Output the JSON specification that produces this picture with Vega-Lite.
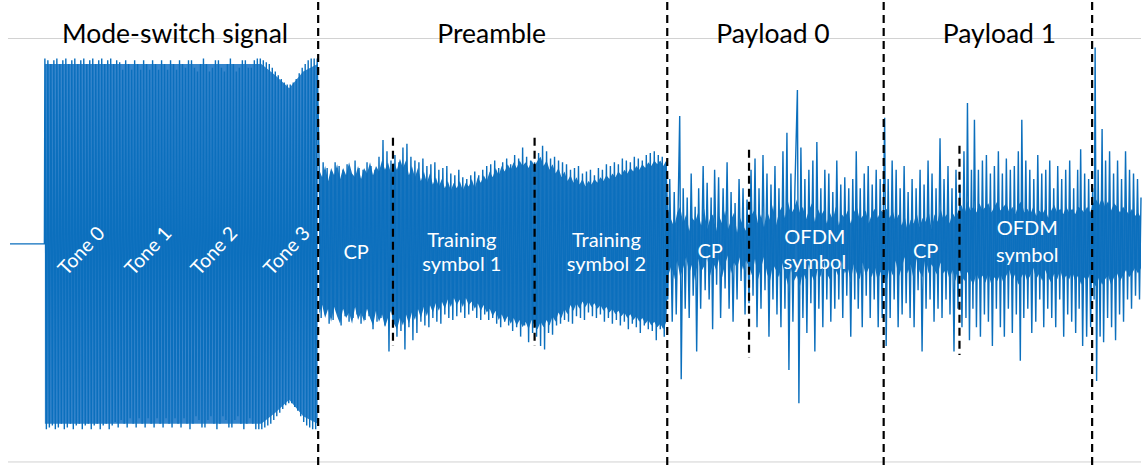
{
  "$schema": "https://vega.github.io/schema/vega-lite/v6.json",
  "width": 1144,
  "height": 469,
  "padding": 0,
  "autosize": {"type": "fit", "contains": "padding"},
  "background": "white",
  "config": {"view": {"stroke": null}},
  "datasets": {
    "grid": [{"v": 1.108}, {"v": -1.176}],
    "toneBand": [
      {"t": 45, "lo": -0.97, "hi": 0.97},
      {"t": 262, "lo": -0.97, "hi": 0.97},
      {"t": 276, "lo": -0.91, "hi": 0.91},
      {"t": 290, "lo": -0.84, "hi": 0.84},
      {"t": 304, "lo": -0.93, "hi": 0.93},
      {"t": 318.5, "lo": -0.97, "hi": 0.97}
    ],
    "coreBand": [
      {"t":320,"lo":-0.38,"hi":0.40},{"t":323,"lo":-0.33,"hi":0.36},{"t":326,"lo":-0.40,"hi":0.42},{"t":329,"lo":-0.35,"hi":0.34},{"t":332,"lo":-0.42,"hi":0.41},{"t":335,"lo":-0.34,"hi":0.37},{"t":338,"lo":-0.39,"hi":0.43},{"t":341,"lo":-0.43,"hi":0.35},{"t":344,"lo":-0.35,"hi":0.41},{"t":347,"lo":-0.40,"hi":0.37},{"t":350,"lo":-0.37,"hi":0.44},{"t":353,"lo":-0.43,"hi":0.38},{"t":356,"lo":-0.34,"hi":0.36},{"t":359,"lo":-0.41,"hi":0.42},{"t":362,"lo":-0.37,"hi":0.35},{"t":365,"lo":-0.42,"hi":0.41},{"t":368,"lo":-0.35,"hi":0.38},{"t":371,"lo":-0.40,"hi":0.44},{"t":374,"lo":-0.44,"hi":0.37},{"t":377,"lo":-0.36,"hi":0.42},{"t":380,"lo":-0.42,"hi":0.39},{"t":383,"lo":-0.38,"hi":0.45},{"t":386,"lo":-0.45,"hi":0.40},{"t":389,"lo":-0.40,"hi":0.44},{"t":392,"lo":-0.36,"hi":0.38},{"t":395,"lo":-0.43,"hi":0.44},{"t":398,"lo":-0.46,"hi":0.40},{"t":401,"lo":-0.40,"hi":0.46},{"t":404,"lo":-0.44,"hi":0.41},{"t":407,"lo":-0.38,"hi":0.45},{"t":410,"lo":-0.43,"hi":0.37},{"t":413,"lo":-0.37,"hi":0.42},{"t":416,"lo":-0.41,"hi":0.36},{"t":419,"lo":-0.35,"hi":0.41},{"t":422,"lo":-0.40,"hi":0.34},{"t":425,"lo":-0.34,"hi":0.39},{"t":428,"lo":-0.39,"hi":0.33},{"t":431,"lo":-0.33,"hi":0.38},{"t":434,"lo":-0.37,"hi":0.32},{"t":437,"lo":-0.32,"hi":0.36},{"t":440,"lo":-0.36,"hi":0.31},{"t":443,"lo":-0.31,"hi":0.35},{"t":446,"lo":-0.35,"hi":0.30},{"t":449,"lo":-0.30,"hi":0.34},{"t":452,"lo":-0.34,"hi":0.29},{"t":455,"lo":-0.29,"hi":0.33},{"t":458,"lo":-0.33,"hi":0.30},{"t":461,"lo":-0.30,"hi":0.34},{"t":464,"lo":-0.34,"hi":0.29},{"t":467,"lo":-0.29,"hi":0.33},{"t":470,"lo":-0.33,"hi":0.31},{"t":473,"lo":-0.31,"hi":0.35},{"t":476,"lo":-0.35,"hi":0.30},{"t":479,"lo":-0.32,"hi":0.36},{"t":482,"lo":-0.36,"hi":0.33},{"t":485,"lo":-0.33,"hi":0.37},{"t":488,"lo":-0.37,"hi":0.34},{"t":491,"lo":-0.35,"hi":0.39},{"t":494,"lo":-0.39,"hi":0.36},{"t":497,"lo":-0.36,"hi":0.41},{"t":500,"lo":-0.41,"hi":0.37},{"t":503,"lo":-0.38,"hi":0.42},{"t":506,"lo":-0.42,"hi":0.39},{"t":509,"lo":-0.39,"hi":0.43},{"t":512,"lo":-0.43,"hi":0.40},{"t":515,"lo":-0.40,"hi":0.44},{"t":518,"lo":-0.44,"hi":0.41},{"t":521,"lo":-0.41,"hi":0.45},{"t":524,"lo":-0.45,"hi":0.42},{"t":527,"lo":-0.42,"hi":0.44},{"t":530,"lo":-0.46,"hi":0.41},{"t":533,"lo":-0.41,"hi":0.45},{"t":536,"lo":-0.44,"hi":0.42},{"t":539,"lo":-0.46,"hi":0.45},{"t":542,"lo":-0.42,"hi":0.47},{"t":545,"lo":-0.45,"hi":0.42},{"t":548,"lo":-0.41,"hi":0.45},{"t":551,"lo":-0.44,"hi":0.40},{"t":554,"lo":-0.39,"hi":0.43},{"t":557,"lo":-0.42,"hi":0.38},{"t":560,"lo":-0.37,"hi":0.41},{"t":563,"lo":-0.40,"hi":0.36},{"t":566,"lo":-0.35,"hi":0.39},{"t":569,"lo":-0.38,"hi":0.34},{"t":572,"lo":-0.33,"hi":0.37},{"t":575,"lo":-0.36,"hi":0.33},{"t":578,"lo":-0.32,"hi":0.36},{"t":581,"lo":-0.35,"hi":0.32},{"t":584,"lo":-0.31,"hi":0.35},{"t":587,"lo":-0.34,"hi":0.31},{"t":590,"lo":-0.31,"hi":0.34},{"t":593,"lo":-0.34,"hi":0.32},{"t":596,"lo":-0.32,"hi":0.35},{"t":599,"lo":-0.35,"hi":0.33},{"t":602,"lo":-0.33,"hi":0.36},{"t":605,"lo":-0.36,"hi":0.34},{"t":608,"lo":-0.34,"hi":0.37},{"t":611,"lo":-0.37,"hi":0.35},{"t":614,"lo":-0.35,"hi":0.38},{"t":617,"lo":-0.38,"hi":0.36},{"t":620,"lo":-0.36,"hi":0.39},{"t":623,"lo":-0.39,"hi":0.37},{"t":626,"lo":-0.37,"hi":0.40},{"t":629,"lo":-0.40,"hi":0.38},{"t":632,"lo":-0.38,"hi":0.41},{"t":635,"lo":-0.41,"hi":0.39},{"t":638,"lo":-0.39,"hi":0.42},{"t":641,"lo":-0.42,"hi":0.40},{"t":644,"lo":-0.40,"hi":0.43},{"t":647,"lo":-0.43,"hi":0.41},{"t":650,"lo":-0.41,"hi":0.44},{"t":653,"lo":-0.44,"hi":0.42},{"t":656,"lo":-0.42,"hi":0.45},{"t":659,"lo":-0.45,"hi":0.43},{"t":662,"lo":-0.43,"hi":0.45},{"t":665,"lo":-0.46,"hi":0.42},{"t":668,"lo":-0.42,"hi":0.45},
      {"t":670,"lo":-0.17,"hi":0.18},{"t":673,"lo":-0.12,"hi":0.13},{"t":676,"lo":-0.19,"hi":0.09},{"t":679,"lo":-0.09,"hi":0.17},{"t":682,"lo":-0.18,"hi":0.20},{"t":685,"lo":-0.13,"hi":0.11},{"t":688,"lo":-0.07,"hi":0.16},{"t":691,"lo":-0.16,"hi":0.07},{"t":694,"lo":-0.11,"hi":0.14},{"t":697,"lo":-0.20,"hi":0.12},{"t":700,"lo":-0.08,"hi":0.17},{"t":703,"lo":-0.15,"hi":0.10},{"t":706,"lo":-0.12,"hi":0.19},{"t":709,"lo":-0.07,"hi":0.08},{"t":712,"lo":-0.17,"hi":0.14},{"t":715,"lo":-0.10,"hi":0.16},{"t":718,"lo":-0.14,"hi":0.07},{"t":721,"lo":-0.08,"hi":0.15},{"t":724,"lo":-0.18,"hi":0.11},{"t":727,"lo":-0.11,"hi":0.18},{"t":730,"lo":-0.06,"hi":0.08},{"t":733,"lo":-0.16,"hi":0.13},{"t":736,"lo":-0.10,"hi":0.17},{"t":739,"lo":-0.13,"hi":0.06},{"t":742,"lo":-0.07,"hi":0.14},{"t":745,"lo":-0.14,"hi":0.10},{"t":748,"lo":-0.09,"hi":0.07},{"t":751,"lo":-0.12,"hi":0.12},{"t":754,"lo":-0.17,"hi":0.16},{"t":757,"lo":-0.08,"hi":0.19},{"t":760,"lo":-0.19,"hi":0.11},{"t":763,"lo":-0.13,"hi":0.16},{"t":766,"lo":-0.07,"hi":0.09},{"t":769,"lo":-0.16,"hi":0.18},{"t":772,"lo":-0.20,"hi":0.13},{"t":775,"lo":-0.11,"hi":0.21},{"t":778,"lo":-0.14,"hi":0.10},{"t":781,"lo":-0.18,"hi":0.17},{"t":784,"lo":-0.10,"hi":0.20},{"t":787,"lo":-0.16,"hi":0.14},{"t":790,"lo":-0.22,"hi":0.23},{"t":793,"lo":-0.13,"hi":0.16},{"t":796,"lo":-0.20,"hi":0.19},{"t":799,"lo":-0.17,"hi":0.24},{"t":802,"lo":-0.23,"hi":0.17},{"t":805,"lo":-0.15,"hi":0.20},{"t":808,"lo":-0.19,"hi":0.13},{"t":811,"lo":-0.11,"hi":0.18},{"t":814,"lo":-0.17,"hi":0.22},{"t":817,"lo":-0.21,"hi":0.12},{"t":820,"lo":-0.13,"hi":0.19},{"t":823,"lo":-0.18,"hi":0.15},{"t":826,"lo":-0.08,"hi":0.18},{"t":829,"lo":-0.16,"hi":0.11},{"t":832,"lo":-0.19,"hi":0.17},{"t":835,"lo":-0.11,"hi":0.13},{"t":838,"lo":-0.14,"hi":0.20},{"t":841,"lo":-0.18,"hi":0.10},{"t":844,"lo":-0.09,"hi":0.16},{"t":847,"lo":-0.16,"hi":0.14},{"t":850,"lo":-0.13,"hi":0.18},{"t":853,"lo":-0.20,"hi":0.11},{"t":856,"lo":-0.11,"hi":0.17},{"t":859,"lo":-0.16,"hi":0.20},{"t":862,"lo":-0.19,"hi":0.13},{"t":865,"lo":-0.10,"hi":0.15},{"t":868,"lo":-0.17,"hi":0.18},{"t":871,"lo":-0.13,"hi":0.11},{"t":874,"lo":-0.18,"hi":0.16},{"t":877,"lo":-0.12,"hi":0.19},{"t":880,"lo":-0.20,"hi":0.14},{"t":883,"lo":-0.15,"hi":0.18},{"t":886,"lo":-0.18,"hi":0.17},{"t":889,"lo":-0.20,"hi":0.19},{"t":892,"lo":-0.12,"hi":0.14},{"t":895,"lo":-0.17,"hi":0.18},{"t":898,"lo":-0.09,"hi":0.12},{"t":901,"lo":-0.18,"hi":0.16},{"t":904,"lo":-0.13,"hi":0.10},{"t":907,"lo":-0.07,"hi":0.15},{"t":910,"lo":-0.16,"hi":0.07},{"t":913,"lo":-0.11,"hi":0.13},{"t":916,"lo":-0.19,"hi":0.11},{"t":919,"lo":-0.08,"hi":0.17},{"t":922,"lo":-0.15,"hi":0.09},{"t":925,"lo":-0.18,"hi":0.14},{"t":928,"lo":-0.07,"hi":0.12},{"t":931,"lo":-0.16,"hi":0.18},{"t":934,"lo":-0.11,"hi":0.08},{"t":937,"lo":-0.14,"hi":0.16},{"t":940,"lo":-0.17,"hi":0.12},{"t":943,"lo":-0.10,"hi":0.19},{"t":946,"lo":-0.16,"hi":0.13},{"t":949,"lo":-0.13,"hi":0.16},{"t":952,"lo":-0.19,"hi":0.11},{"t":955,"lo":-0.14,"hi":0.17},{"t":958,"lo":-0.20,"hi":0.14},{"t":961,"lo":-0.12,"hi":0.18},{"t":964,"lo":-0.17,"hi":0.21},{"t":967,"lo":-0.20,"hi":0.16},{"t":970,"lo":-0.15,"hi":0.23},{"t":973,"lo":-0.19,"hi":0.18},{"t":976,"lo":-0.22,"hi":0.20},{"t":979,"lo":-0.16,"hi":0.17},{"t":982,"lo":-0.20,"hi":0.22},{"t":985,"lo":-0.17,"hi":0.18},{"t":988,"lo":-0.21,"hi":0.20},{"t":991,"lo":-0.16,"hi":0.22},{"t":994,"lo":-0.22,"hi":0.17},{"t":997,"lo":-0.18,"hi":0.20},{"t":1000,"lo":-0.20,"hi":0.23},{"t":1003,"lo":-0.16,"hi":0.18},{"t":1006,"lo":-0.21,"hi":0.20},{"t":1009,"lo":-0.17,"hi":0.22},{"t":1012,"lo":-0.14,"hi":0.17},{"t":1015,"lo":-0.20,"hi":0.20},{"t":1018,"lo":-0.16,"hi":0.16},{"t":1021,"lo":-0.22,"hi":0.21},{"t":1024,"lo":-0.18,"hi":0.23},{"t":1027,"lo":-0.15,"hi":0.17},{"t":1030,"lo":-0.20,"hi":0.19},{"t":1033,"lo":-0.17,"hi":0.16},{"t":1036,"lo":-0.13,"hi":0.20},{"t":1039,"lo":-0.19,"hi":0.15},{"t":1042,"lo":-0.16,"hi":0.18},{"t":1045,"lo":-0.20,"hi":0.16},{"t":1048,"lo":-0.14,"hi":0.19},{"t":1051,"lo":-0.18,"hi":0.14},{"t":1054,"lo":-0.21,"hi":0.18},{"t":1057,"lo":-0.16,"hi":0.21},{"t":1060,"lo":-0.19,"hi":0.17},{"t":1063,"lo":-0.14,"hi":0.19},{"t":1066,"lo":-0.20,"hi":0.16},{"t":1069,"lo":-0.17,"hi":0.20},{"t":1072,"lo":-0.19,"hi":0.17},{"t":1075,"lo":-0.15,"hi":0.19},{"t":1078,"lo":-0.20,"hi":0.16},{"t":1081,"lo":-0.17,"hi":0.20},{"t":1084,"lo":-0.22,"hi":0.19},{"t":1087,"lo":-0.18,"hi":0.17},{"t":1090,"lo":-0.20,"hi":0.20},{"t":1093,"lo":-0.16,"hi":0.17},{"t":1096,"lo":-0.21,"hi":0.22},{"t":1099,"lo":-0.23,"hi":0.24},{"t":1102,"lo":-0.18,"hi":0.21},{"t":1105,"lo":-0.22,"hi":0.25},{"t":1108,"lo":-0.19,"hi":0.20},{"t":1111,"lo":-0.17,"hi":0.23},{"t":1114,"lo":-0.22,"hi":0.18},{"t":1117,"lo":-0.18,"hi":0.22},{"t":1120,"lo":-0.16,"hi":0.20},{"t":1123,"lo":-0.20,"hi":0.17},{"t":1126,"lo":-0.17,"hi":0.20},{"t":1129,"lo":-0.14,"hi":0.18},{"t":1132,"lo":-0.18,"hi":0.16},{"t":1135,"lo":-0.16,"hi":0.19},{"t":1138,"lo":-0.13,"hi":0.15},{"t":1141,"lo":-0.16,"hi":0.17},{"t":1144,"lo":-0.13,"hi":0.14}
    ],
    "signal": [
      {"t":10,"v":0},{"t":44.5,"v":0},
      {"t":45,"v":1},{"t":46.5,"v":-1},{"t":48,"v":0.99},{"t":49.5,"v":-0.99},{"t":51,"v":0.97},{"t":52.5,"v":-0.98},{"t":54,"v":0.99},{"t":55.5,"v":-1},{"t":57,"v":1},{"t":58.5,"v":-0.99},{"t":60,"v":0.97},{"t":61.5,"v":-0.97},{"t":63,"v":0.99},{"t":64.5,"v":-1},{"t":66,"v":1},{"t":67.5,"v":-0.99},{"t":69,"v":0.97},{"t":70.5,"v":-0.97},{"t":72,"v":0.99},{"t":73.5,"v":-1},{"t":75,"v":1},{"t":76.5,"v":-0.98},{"t":78,"v":0.97},{"t":79.5,"v":-0.97},{"t":81,"v":0.99},{"t":82.5,"v":-1},{"t":84,"v":1},{"t":85.5,"v":-0.98},{"t":87,"v":0.97},{"t":88.5,"v":-0.97},{"t":90,"v":0.99},{"t":91.5,"v":-1},{"t":93,"v":1},{"t":94.5,"v":-0.98},{"t":96,"v":0.97},{"t":97.5,"v":-0.97},{"t":99,"v":0.99},{"t":100.5,"v":-1},{"t":102,"v":1},{"t":103.5,"v":-0.98},{"t":105,"v":0.97},{"t":106.5,"v":-0.97},{"t":108,"v":0.99},{"t":109.5,"v":-1},{"t":111,"v":1},{"t":112.5,"v":-0.98},{"t":114,"v":0.97},
      {"t":115.5,"v":-0.96},{"t":117,"v":0.99},{"t":118.5,"v":-0.99},{"t":120,"v":0.98},{"t":121.5,"v":-0.95},{"t":123,"v":0.94},{"t":124.5,"v":-0.97},{"t":126,"v":0.99},{"t":127.5,"v":-0.99},{"t":129,"v":0.97},{"t":130.5,"v":-0.94},{"t":132,"v":0.94},{"t":133.5,"v":-0.97},{"t":135,"v":0.99},{"t":136.5,"v":-0.99},{"t":138,"v":0.97},{"t":139.5,"v":-0.94},{"t":141,"v":0.94},{"t":142.5,"v":-0.97},{"t":144,"v":0.99},{"t":145.5,"v":-0.99},{"t":147,"v":0.97},{"t":148.5,"v":-0.94},{"t":150,"v":0.94},{"t":151.5,"v":-0.97},{"t":153,"v":0.99},{"t":154.5,"v":-0.99},{"t":156,"v":0.97},{"t":157.5,"v":-0.94},{"t":159,"v":0.94},{"t":160.5,"v":-0.97},{"t":162,"v":0.99},{"t":163.5,"v":-0.99},{"t":165,"v":0.97},{"t":166.5,"v":-0.94},{"t":168,"v":0.94},{"t":169.5,"v":-0.97},{"t":171,"v":0.99},{"t":172.5,"v":-0.99},{"t":174,"v":0.97},{"t":175.5,"v":-0.94},{"t":177,"v":0.94},{"t":178.5,"v":-0.97},{"t":180,"v":0.99},{"t":181.5,"v":-0.99},{"t":183,"v":0.97},{"t":184.5,"v":-0.94},
      {"t":186,"v":0.95},{"t":187.5,"v":-0.97},{"t":189,"v":0.99},{"t":190.5,"v":-1},{"t":192,"v":0.99},{"t":193.5,"v":-0.97},{"t":195,"v":0.95},{"t":196.5,"v":-0.93},{"t":198,"v":0.93},{"t":199.5,"v":-0.95},{"t":201,"v":0.97},{"t":202.5,"v":-0.99},{"t":204,"v":1},{"t":205.5,"v":-0.99},{"t":207,"v":0.97},{"t":208.5,"v":-0.95},{"t":210,"v":0.93},{"t":211.5,"v":-0.93},{"t":213,"v":0.95},{"t":214.5,"v":-0.97},{"t":216,"v":0.99},{"t":217.5,"v":-1},{"t":219,"v":0.99},{"t":220.5,"v":-0.97},{"t":222,"v":0.95},{"t":223.5,"v":-0.93},{"t":225,"v":0.93},{"t":226.5,"v":-0.95},{"t":228,"v":0.97},{"t":229.5,"v":-0.99},{"t":231,"v":1},{"t":232.5,"v":-0.99},{"t":234,"v":0.97},{"t":235.5,"v":-0.95},{"t":237,"v":0.93},{"t":238.5,"v":-0.93},{"t":240,"v":0.95},{"t":241.5,"v":-0.97},{"t":243,"v":0.99},{"t":244.5,"v":-1},{"t":246,"v":0.99},{"t":247.5,"v":-0.97},{"t":249,"v":0.95},{"t":250.5,"v":-0.94},{"t":252,"v":0.95},{"t":253.5,"v":-0.97},
      {"t":255,"v":0.99},{"t":256.5,"v":-1},{"t":258,"v":1},{"t":259.5,"v":-1},{"t":261,"v":1},{"t":262.5,"v":-1},{"t":264,"v":0.99},{"t":265.5,"v":-0.99},{"t":267,"v":0.98},{"t":268.5,"v":-0.98},{"t":270,"v":0.97},{"t":271.5,"v":-0.97},{"t":273,"v":0.95},{"t":274.5,"v":-0.95},{"t":276,"v":0.93},{"t":277.5,"v":-0.93},{"t":279,"v":0.91},{"t":280.5,"v":-0.91},{"t":282,"v":0.89},{"t":283.5,"v":-0.89},{"t":285,"v":0.87},{"t":286.5,"v":-0.87},{"t":288,"v":0.86},{"t":289.5,"v":-0.86},{"t":291,"v":0.86},{"t":292.5,"v":-0.86},{"t":294,"v":0.87},{"t":295.5,"v":-0.88},{"t":297,"v":0.89},{"t":298.5,"v":-0.9},{"t":300,"v":0.92},{"t":301.5,"v":-0.93},{"t":303,"v":0.95},{"t":304.5,"v":-0.96},{"t":306,"v":0.97},{"t":307.5,"v":-0.98},{"t":309,"v":0.99},{"t":310.5,"v":-0.99},{"t":312,"v":1},{"t":313.5,"v":-1},{"t":315,"v":1},{"t":316.5,"v":-1},{"t":318,"v":1},
      {"t":320,"v":0.42},{"t":322,"v":-0.40},{"t":324,"v":0.44},{"t":326,"v":-0.38},{"t":328,"v":0.41},{"t":330,"v":-0.43},{"t":332,"v":0.39},{"t":334,"v":-0.41},{"t":336,"v":0.44},{"t":338,"v":-0.37},{"t":340,"v":0.42},{"t":342,"v":-0.44},{"t":344,"v":0.40},{"t":346,"v":-0.39},{"t":348,"v":0.43},{"t":350,"v":-0.42},{"t":352,"v":0.38},{"t":354,"v":-0.40},{"t":356,"v":0.45},{"t":358,"v":-0.38},{"t":360,"v":0.41},{"t":362,"v":-0.43},{"t":364,"v":0.40},{"t":366,"v":-0.41},{"t":368,"v":0.44},{"t":370,"v":-0.39},{"t":372,"v":0.42},{"t":374,"v":-0.46},{"t":376,"v":0.40},{"t":378,"v":-0.42},{"t":380,"v":0.47},{"t":382,"v":-0.40},{"t":384,"v":0.56},{"t":386,"v":-0.44},{"t":388,"v":0.50},{"t":390,"v":-0.58},{"t":392,"v":0.45},
      {"t":394,"v":-0.42},{"t":396,"v":0.48},{"t":398,"v":-0.50},{"t":400,"v":0.44},{"t":402,"v":-0.47},{"t":404,"v":0.52},{"t":406,"v":-0.57},{"t":408,"v":0.54},{"t":410,"v":-0.45},{"t":412,"v":0.47},{"t":414,"v":-0.52},{"t":416,"v":0.45},{"t":418,"v":-0.48},{"t":420,"v":0.44},{"t":422,"v":-0.42},{"t":424,"v":0.46},{"t":426,"v":-0.44},{"t":428,"v":0.42},{"t":430,"v":-0.45},{"t":432,"v":0.43},{"t":434,"v":-0.40},{"t":436,"v":0.44},{"t":438,"v":-0.42},{"t":440,"v":0.40},{"t":442,"v":-0.43},{"t":444,"v":0.41},{"t":446,"v":-0.38},{"t":448,"v":0.42},{"t":450,"v":-0.40},{"t":452,"v":0.38},{"t":454,"v":-0.41},{"t":456,"v":0.37},{"t":458,"v":-0.39},{"t":460,"v":0.40},{"t":462,"v":-0.37},{"t":464,"v":0.36},{"t":466,"v":-0.40},{"t":468,"v":0.35},{"t":470,"v":-0.38},{"t":472,"v":0.37},{"t":474,"v":-0.36},{"t":476,"v":0.39},{"t":478,"v":-0.40},{"t":480,"v":0.37},{"t":482,"v":-0.41},{"t":484,"v":0.40},{"t":486,"v":-0.38},{"t":488,"v":0.42},{"t":490,"v":-0.41},{"t":492,"v":0.43},{"t":494,"v":-0.40},{"t":496,"v":0.45},{"t":498,"v":-0.43},{"t":500,"v":0.41},{"t":502,"v":-0.45},{"t":504,"v":0.44},{"t":506,"v":-0.42},{"t":508,"v":0.46},{"t":510,"v":-0.44},{"t":512,"v":0.43},{"t":514,"v":-0.47},{"t":516,"v":0.48},{"t":518,"v":-0.45},{"t":520,"v":0.46},{"t":522,"v":-0.50},{"t":524,"v":0.52},{"t":526,"v":-0.44},{"t":528,"v":0.47},{"t":530,"v":-0.53},{"t":532,"v":0.45},{"t":534,"v":-0.48},{"t":536,"v":0.44},
      {"t":538,"v":-0.50},{"t":540,"v":0.49},{"t":542,"v":-0.55},{"t":544,"v":0.53},{"t":546,"v":-0.57},{"t":548,"v":0.50},{"t":550,"v":-0.48},{"t":552,"v":0.46},{"t":554,"v":-0.49},{"t":556,"v":0.47},{"t":558,"v":-0.44},{"t":560,"v":0.45},{"t":562,"v":-0.43},{"t":564,"v":0.44},{"t":566,"v":-0.41},{"t":568,"v":0.43},{"t":570,"v":-0.42},{"t":572,"v":0.40},{"t":574,"v":-0.43},{"t":576,"v":0.41},{"t":578,"v":-0.39},{"t":580,"v":0.42},{"t":582,"v":-0.40},{"t":584,"v":0.38},{"t":586,"v":-0.41},{"t":588,"v":0.39},{"t":590,"v":-0.37},{"t":592,"v":0.40},{"t":594,"v":-0.39},{"t":596,"v":0.37},{"t":598,"v":-0.40},{"t":600,"v":0.41},{"t":602,"v":-0.38},{"t":604,"v":0.40},{"t":606,"v":-0.42},{"t":608,"v":0.43},{"t":610,"v":-0.40},{"t":612,"v":0.42},{"t":614,"v":-0.43},{"t":616,"v":0.44},{"t":618,"v":-0.41},{"t":620,"v":0.43},{"t":622,"v":-0.44},{"t":624,"v":0.46},{"t":626,"v":-0.42},{"t":628,"v":0.45},{"t":630,"v":-0.46},{"t":632,"v":0.44},{"t":634,"v":-0.43},{"t":636,"v":0.47},{"t":638,"v":-0.45},{"t":640,"v":0.46},{"t":642,"v":-0.48},{"t":644,"v":0.45},{"t":646,"v":-0.44},{"t":648,"v":0.48},{"t":650,"v":-0.46},{"t":652,"v":0.49},{"t":654,"v":-0.47},{"t":656,"v":0.50},{"t":658,"v":-0.52},{"t":660,"v":0.48},{"t":662,"v":-0.46},{"t":664,"v":0.47},{"t":666,"v":-0.50},{"t":668,"v":0.44},
      {"t":669.5,"v":-0.30},{"t":671.5,"v":0.35},{"t":674,"v":-0.42},{"t":676,"v":0.28},{"t":678,"v":-0.38},{"t":680,"v":0.22},{"t":681.5,"v":0.69},{"t":683,"v":-0.73},{"t":685,"v":0.30},{"t":687,"v":-0.35},{"t":689,"v":0.25},{"t":691,"v":-0.40},{"t":693,"v":0.38},{"t":695,"v":-0.28},{"t":697,"v":0.20},{"t":698.5,"v":-0.58},{"t":700.5,"v":0.30},{"t":702.5,"v":-0.35},{"t":705,"v":0.42},{"t":707,"v":-0.25},{"t":709,"v":0.33},{"t":711,"v":-0.30},{"t":713,"v":0.25},{"t":714.5,"v":-0.46},{"t":716.5,"v":0.40},{"t":718.5,"v":-0.22},{"t":720.5,"v":0.36},{"t":722.5,"v":-0.40},{"t":725,"v":0.30},{"t":727,"v":-0.24},{"t":729,"v":0.44},{"t":731,"v":-0.35},{"t":733,"v":0.28},{"t":735,"v":-0.42},{"t":737,"v":0.22},{"t":739,"v":-0.30},{"t":741,"v":0.35},{"t":743,"v":-0.20},{"t":745,"v":0.30},{"t":747,"v":-0.38},{"t":749,"v":0.24},{"t":751,"v":-0.32},{"t":753,"v":0.40},{"t":755,"v":-0.28},{"t":757,"v":0.46},{"t":759,"v":-0.45},{"t":761,"v":0.30},{"t":763,"v":-0.35},{"t":765,"v":0.48},{"t":767,"v":-0.25},{"t":769,"v":0.38},{"t":771,"v":-0.50},{"t":773,"v":0.32},{"t":775,"v":-0.30},{"t":777,"v":0.42},{"t":779,"v":-0.38},{"t":781,"v":0.30},{"t":783,"v":-0.45},{"t":785,"v":0.50},{"t":787,"v":-0.35},{"t":789,"v":0.60},{"t":791,"v":-0.68},{"t":793,"v":0.38},{"t":795,"v":-0.42},{"t":797,"v":0.30},{"t":799.5,"v":0.83},{"t":801,"v":-0.86},{"t":803,"v":0.52},{"t":805,"v":-0.40},{"t":807,"v":0.35},{"t":809,"v":-0.48},{"t":811,"v":0.40},{"t":813,"v":-0.32},{"t":815,"v":0.45},{"t":817,"v":-0.58},{"t":819,"v":0.55},{"t":821,"v":-0.35},{"t":823,"v":0.30},{"t":825,"v":-0.45},{"t":827,"v":0.40},{"t":829,"v":-0.30},{"t":831,"v":0.38},{"t":833,"v":-0.42},{"t":835,"v":0.28},{"t":837,"v":-0.35},{"t":839,"v":0.45},{"t":841,"v":-0.30},{"t":843,"v":0.32},{"t":845,"v":-0.40},{"t":847,"v":0.36},{"t":849,"v":-0.28},{"t":851,"v":0.30},{"t":853,"v":-0.50},{"t":855,"v":0.35},{"t":857,"v":-0.30},{"t":858.5,"v":0.50},{"t":860.5,"v":-0.35},{"t":862.5,"v":0.30},{"t":864.5,"v":-0.45},{"t":866.5,"v":0.38},{"t":868.5,"v":-0.28},{"t":870.5,"v":0.42},{"t":872.5,"v":-0.40},{"t":874.5,"v":0.32},{"t":876.5,"v":-0.30},{"t":878.5,"v":0.40},{"t":880.5,"v":-0.45},{"t":882.5,"v":0.35},{"t":884.5,"v":-0.40},{"t":886,"v":0.30},
      {"t":887,"v":0.68},{"t":888.5,"v":-0.55},{"t":890.5,"v":0.35},{"t":892.5,"v":-0.40},{"t":894.5,"v":0.45},{"t":896.5,"v":-0.30},{"t":898.5,"v":0.40},{"t":900.5,"v":-0.45},{"t":902.5,"v":0.30},{"t":904.5,"v":-0.38},{"t":906.5,"v":0.42},{"t":908.5,"v":-0.32},{"t":910.5,"v":0.28},{"t":912.5,"v":-0.40},{"t":914.5,"v":0.35},{"t":916.5,"v":-0.45},{"t":918.5,"v":0.30},{"t":920.5,"v":-0.25},{"t":922.5,"v":0.40},{"t":924.5,"v":-0.58},{"t":926.5,"v":0.32},{"t":928.5,"v":-0.35},{"t":930.5,"v":0.45},{"t":932.5,"v":-0.30},{"t":934.5,"v":0.38},{"t":936.5,"v":-0.42},{"t":938.5,"v":0.30},{"t":940.5,"v":-0.35},{"t":942.5,"v":0.57},{"t":944.5,"v":-0.40},{"t":946.5,"v":0.35},{"t":948.5,"v":-0.30},{"t":950.5,"v":0.42},{"t":952.5,"v":-0.38},{"t":954.5,"v":0.30},{"t":956.5,"v":-0.58},{"t":958.5,"v":0.40},{"t":960.5,"v":-0.35},{"t":962.5,"v":0.32},{"t":964.5,"v":-0.45},{"t":966.5,"v":0.50},{"t":968.5,"v":-0.40},{"t":970,"v":0.76},{"t":972,"v":-0.52},{"t":974,"v":0.40},{"t":975.5,"v":-0.35},{"t":977,"v":0.67},{"t":979,"v":-0.45},{"t":981,"v":0.40},{"t":983,"v":-0.50},{"t":985,"v":0.45},{"t":987,"v":-0.38},{"t":989,"v":0.48},{"t":991,"v":-0.42},{"t":993,"v":0.38},{"t":995,"v":-0.55},{"t":997,"v":0.42},{"t":999,"v":-0.35},{"t":1001,"v":0.50},{"t":1003,"v":-0.45},{"t":1005,"v":0.38},{"t":1007,"v":-0.50},{"t":1009,"v":0.46},{"t":1011,"v":-0.35},{"t":1013,"v":0.40},{"t":1015,"v":-0.48},{"t":1017,"v":0.42},{"t":1019,"v":-0.38},{"t":1021,"v":0.50},{"t":1023,"v":-0.63},{"t":1024.5,"v":0.67},{"t":1026.5,"v":-0.40},{"t":1028.5,"v":0.45},{"t":1030.5,"v":-0.35},{"t":1032.5,"v":0.40},{"t":1034.5,"v":-0.48},{"t":1036.5,"v":0.35},{"t":1038.5,"v":-0.42},{"t":1040.5,"v":0.48},{"t":1042.5,"v":-0.30},{"t":1044.5,"v":0.38},{"t":1046.5,"v":-0.45},{"t":1048.5,"v":0.40},{"t":1050.5,"v":-0.35},{"t":1052.5,"v":0.45},{"t":1054.5,"v":-0.40},{"t":1056.5,"v":0.30},{"t":1058.5,"v":-0.45},{"t":1060.5,"v":0.42},{"t":1062.5,"v":-0.30},{"t":1064.5,"v":0.35},{"t":1066.5,"v":-0.50},{"t":1068.5,"v":0.40},{"t":1070.5,"v":-0.38},{"t":1072.5,"v":0.45},{"t":1074.5,"v":-0.42},{"t":1076.5,"v":0.30},{"t":1078.5,"v":-0.48},{"t":1080.5,"v":0.40},{"t":1082,"v":-0.35},{"t":1083.5,"v":0.51},{"t":1085.5,"v":-0.55},{"t":1087.5,"v":0.38},{"t":1089.5,"v":-0.50},{"t":1091.5,"v":0.35},{"t":1093.5,"v":-0.45},{"t":1095.5,"v":0.30},{"t":1097,"v":-0.30},{"t":1098,"v":1.06},{"t":1099.5,"v":-0.74},{"t":1101,"v":0.40},{"t":1103,"v":-0.50},{"t":1105,"v":0.62},{"t":1106.5,"v":-0.53},{"t":1108.5,"v":0.45},{"t":1110.5,"v":-0.40},{"t":1112.5,"v":0.50},{"t":1114.5,"v":-0.45},{"t":1116.5,"v":0.38},{"t":1118.5,"v":-0.52},{"t":1120.5,"v":0.45},{"t":1122.5,"v":-0.38},{"t":1124.5,"v":0.35},{"t":1126.5,"v":-0.42},{"t":1128.5,"v":0.50},{"t":1130.5,"v":-0.30},{"t":1132.5,"v":0.40},{"t":1134.5,"v":-0.35},{"t":1136.5,"v":0.38},{"t":1138.5,"v":-0.28},{"t":1140.5,"v":0.35},{"t":1142.5,"v":-0.30},{"t":1144,"v":0.25}
    ],
    "sections": [{"t": 319}, {"t": 669}, {"t": 886}, {"t": 1095}],
    "inner": [
      {"t": 394, "top": 0.572, "bottom": -0.551},
      {"t": 536, "top": 0.572, "bottom": -0.551},
      {"t": 751, "top": 0.508, "bottom": -0.615},
      {"t": 962, "top": 0.529, "bottom": -0.599}
    ],
    "titles": [
      {"t": 175.5, "v": 1.086, "label": "Mode-switch signal"},
      {"t": 493, "v": 1.086, "label": "Preamble"},
      {"t": 775, "v": 1.086, "label": "Payload 0"},
      {"t": 1002, "v": 1.086, "label": "Payload 1"}
    ],
    "labels": [
      {"t": 357, "v": -0.08, "label": "CP"},
      {"t": 463, "v": -0.016, "label": "Training"},
      {"t": 463, "v": -0.144, "label": "symbol 1"},
      {"t": 608, "v": -0.016, "label": "Training"},
      {"t": 608, "v": -0.144, "label": "symbol 2"},
      {"t": 712, "v": -0.075, "label": "CP"},
      {"t": 817, "v": 0.0, "label": "OFDM"},
      {"t": 817, "v": -0.134, "label": "symbol"},
      {"t": 928, "v": -0.075, "label": "CP"},
      {"t": 1030, "v": 0.048, "label": "OFDM"},
      {"t": 1030, "v": -0.096, "label": "symbol"}
    ],
    "tones": [
      {"t": 82, "v": -0.04, "label": "Tone 0"},
      {"t": 149, "v": -0.04, "label": "Tone 1"},
      {"t": 215, "v": -0.04, "label": "Tone 2"},
      {"t": 288, "v": -0.04, "label": "Tone 3"}
    ]
  },
  "layer": [
    {
      "data": {"name": "grid"},
      "mark": {"type": "rule", "color": "#d2d2d2", "strokeWidth": 1},
      "encoding": {
        "x": {"datum": 8, "type": "quantitative", "scale": {"domain": [0, 1144]}, "axis": null},
        "x2": {"datum": 1144},
        "y": {"field": "v", "type": "quantitative", "scale": {"domain": [-1.2032, 1.3048]}, "axis": null}
      }
    },
    {
      "data": {"name": "toneBand"},
      "mark": {"type": "area", "color": "#3585cc"},
      "encoding": {
        "x": {"field": "t", "type": "quantitative", "scale": {"domain": [0, 1144]}, "axis": null},
        "y": {"field": "lo", "type": "quantitative", "scale": {"domain": [-1.2032, 1.3048]}, "axis": null},
        "y2": {"field": "hi"}
      }
    },
    {
      "data": {"name": "coreBand"},
      "mark": {"type": "area", "color": "#1a76c0"},
      "encoding": {
        "x": {"field": "t", "type": "quantitative", "scale": {"domain": [0, 1144]}, "axis": null},
        "y": {"field": "lo", "type": "quantitative", "scale": {"domain": [-1.2032, 1.3048]}, "axis": null},
        "y2": {"field": "hi"}
      }
    },
    {
      "data": {"name": "signal"},
      "mark": {"type": "line", "color": "#0b6fbd", "strokeWidth": 1.4},
      "encoding": {
        "x": {"field": "t", "type": "quantitative", "scale": {"domain": [0, 1144]}, "axis": null},
        "y": {"field": "v", "type": "quantitative", "scale": {"domain": [-1.2032, 1.3048]}, "axis": null}
      }
    },
    {
      "data": {"name": "sections"},
      "mark": {"type": "rule", "color": "black", "strokeWidth": 2.2, "strokeDash": [8, 5]},
      "encoding": {
        "x": {"field": "t", "type": "quantitative", "scale": {"domain": [0, 1144]}, "axis": null}
      }
    },
    {
      "data": {"name": "inner"},
      "mark": {"type": "rule", "color": "black", "strokeWidth": 2.2, "strokeDash": [8, 5]},
      "encoding": {
        "x": {"field": "t", "type": "quantitative", "scale": {"domain": [0, 1144]}, "axis": null},
        "y": {"field": "top", "type": "quantitative", "scale": {"domain": [-1.2032, 1.3048]}, "axis": null},
        "y2": {"field": "bottom"}
      }
    },
    {
      "data": {"name": "titles"},
      "mark": {"type": "text", "font": "Lato", "fontSize": 26.5, "color": "black", "align": "center", "baseline": "alphabetic"},
      "encoding": {
        "x": {"field": "t", "type": "quantitative", "scale": {"domain": [0, 1144]}, "axis": null},
        "y": {"field": "v", "type": "quantitative", "scale": {"domain": [-1.2032, 1.3048]}, "axis": null},
        "text": {"field": "label"}
      }
    },
    {
      "data": {"name": "labels"},
      "mark": {"type": "text", "font": "Lato", "fontSize": 20, "color": "white", "align": "center", "baseline": "alphabetic"},
      "encoding": {
        "x": {"field": "t", "type": "quantitative", "scale": {"domain": [0, 1144]}, "axis": null},
        "y": {"field": "v", "type": "quantitative", "scale": {"domain": [-1.2032, 1.3048]}, "axis": null},
        "text": {"field": "label"}
      }
    },
    {
      "data": {"name": "tones"},
      "mark": {"type": "text", "font": "Lato", "fontSize": 19.5, "color": "white", "align": "center", "baseline": "middle", "angle": 313},
      "encoding": {
        "x": {"field": "t", "type": "quantitative", "scale": {"domain": [0, 1144]}, "axis": null},
        "y": {"field": "v", "type": "quantitative", "scale": {"domain": [-1.2032, 1.3048]}, "axis": null},
        "text": {"field": "label"}
      }
    }
  ]
}
